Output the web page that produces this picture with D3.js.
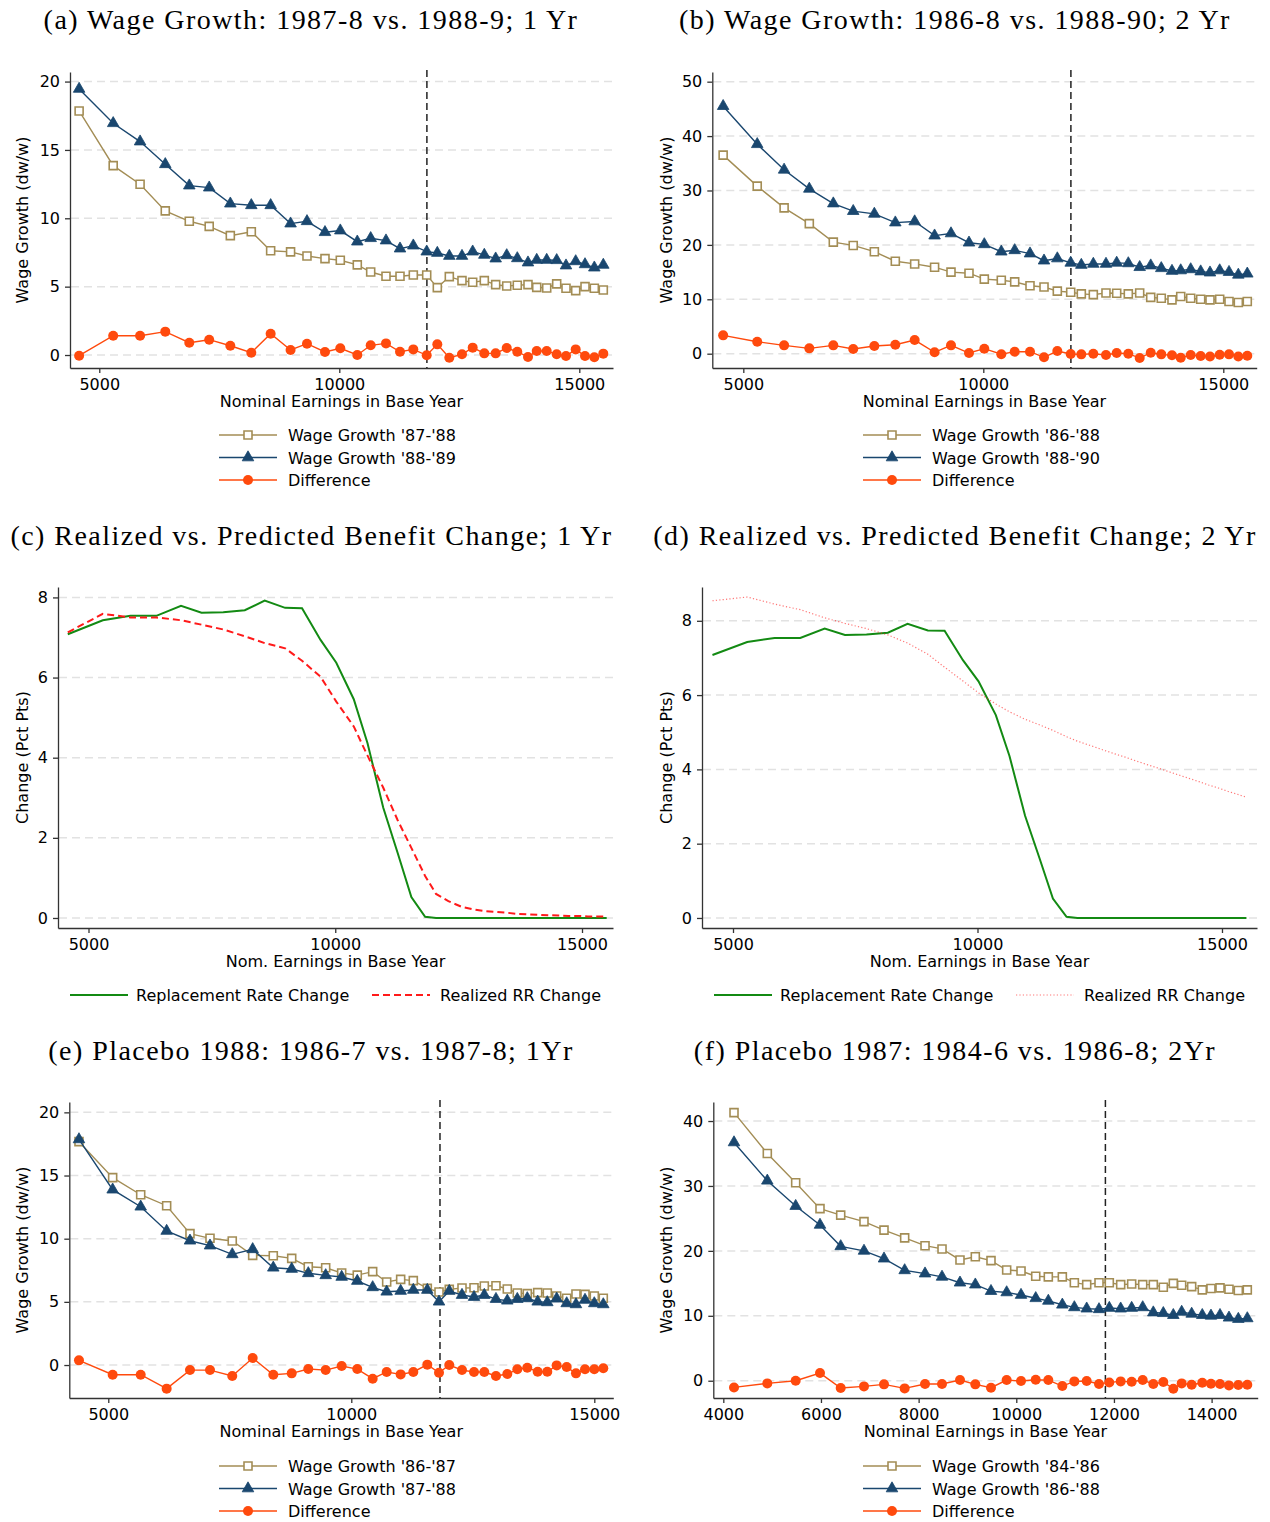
<!DOCTYPE html>
<html>
<head>
<meta charset="utf-8">
<script src="https://cdnjs.cloudflare.com/ajax/libs/d3/7.8.5/d3.min.js"></script>
<style>
  body { margin: 0; background: #fff; }
  svg { display: block; }
</style>
</head>
<body>
<svg id="fig" width="1270" height="1522"></svg>
<script>
// ---------- data ----------
// earnings bins (nominal earnings in base year) for panels a-d
const earningsAD = [4580, 5290, 5850, 6375, 6875, 7290, 7730, 8167, 8570, 8985, 9327, 9702,
  10021, 10375, 10654, 10973, 11265, 11542, 11821, 12042, 12292, 12556, 12779, 13021,
  13258, 13488, 13708, 13931, 14113, 14321, 14529, 14723, 14925, 15119, 15313, 15500];

// (a) 1 year wage growth
const wageA8788 = [17.85, 13.85, 12.49, 10.54, 9.78, 9.41, 8.73, 9.02, 7.63, 7.54, 7.24, 7.05,
  6.93, 6.59, 6.07, 5.76, 5.76, 5.85, 5.85, 4.93, 5.73, 5.44, 5.32, 5.44,
  5.15, 5.05, 5.10, 5.15, 4.95, 4.90, 5.20, 4.88, 4.71, 5.00, 4.88, 4.76];
const wageA8889 = [19.46, 16.95, 15.61, 13.95, 12.39, 12.24, 11.07, 10.95, 10.95, 9.61, 9.78, 8.98,
  9.10, 8.29, 8.54, 8.37, 7.78, 8.00, 7.56, 7.46, 7.24, 7.24, 7.56, 7.32,
  7.05, 7.29, 7.07, 6.76, 6.95, 6.95, 6.93, 6.54, 6.85, 6.63, 6.39, 6.59];
const diffA = [-0.05, 1.41, 1.41, 1.71, 0.90, 1.12, 0.68, 0.17, 1.56, 0.37, 0.83, 0.22,
  0.49, 0.00, 0.71, 0.85, 0.24, 0.41, -0.02, 0.78, -0.20, 0.05, 0.54, 0.12,
  0.12, 0.51, 0.24, -0.15, 0.29, 0.29, 0.05, -0.07, 0.41, -0.07, -0.17, 0.10];

// (b) 2 year wage growth
const wageB8688 = [36.5, 30.8, 26.8, 23.9, 20.5, 19.9, 18.75, 17.0, 16.5, 15.9, 15.0, 14.8,
  13.7, 13.5, 13.2, 12.5, 12.25, 11.5, 11.3, 11.0, 10.85, 11.15, 11.1, 11.0,
  11.15, 10.35, 10.2, 9.9, 10.5, 10.2, 10.0, 9.9, 10.0, 9.6, 9.4, 9.6];
const wageB8890 = [45.5, 38.5, 33.8, 30.3, 27.6, 26.2, 25.7, 24.1, 24.3, 21.7, 22.1, 20.4,
  20.1, 18.75, 19.0, 18.4, 17.1, 17.5, 16.7, 16.3, 16.5, 16.5, 16.7, 16.6,
  15.9, 16.2, 15.7, 15.2, 15.3, 15.5, 15.1, 14.9, 15.3, 15.0, 14.5, 14.7];
const diffB = [3.37, 2.20, 1.53, 0.98, 1.53, 0.86, 1.41, 1.65, 2.51, 0.25, 1.53, 0.12,
  0.92, -0.10, 0.37, 0.37, -0.67, 0.49, -0.06, -0.12, 0.00, -0.25, 0.12, 0.00,
  -0.80, 0.18, -0.12, -0.30, -0.74, -0.25, -0.43, -0.50, -0.18, -0.12, -0.50, -0.37];

// (c), (d) benefit changes
const rrChange = [7.08, 7.43, 7.54, 7.54, 7.79, 7.62, 7.63, 7.68, 7.92, 7.74, 7.73, 6.94,
  6.37, 5.46, 4.36, 2.75, 1.62, 0.52, 0.03, 0, 0, 0, 0, 0,
  0, 0, 0, 0, 0, 0, 0, 0, 0, 0, 0, 0];
const realizedRR1 = [7.13, 7.59, 7.50, 7.50, 7.43, 7.32, 7.20, 7.03, 6.86, 6.73, 6.42, 6.02,
  5.40, 4.78, 4.05, 3.25, 2.44, 1.75, 1.05, 0.60, 0.42, 0.28, 0.22, 0.17,
  0.15, 0.13, 0.10, 0.09, 0.08, 0.07, 0.06, 0.05, 0.05, 0.04, 0.04, 0.04];
const realizedRR2 = [8.54, 8.64, 8.45, 8.30, 8.08, 7.93, 7.79, 7.62, 7.40, 7.10, 6.75, 6.38,
  6.06, 5.76, 5.55, 5.35, 5.20, 5.05, 4.88, 4.76, 4.65, 4.53, 4.43, 4.33,
  4.22, 4.12, 4.03, 3.93, 3.85, 3.76, 3.67, 3.58, 3.50, 3.41, 3.33, 3.25];

// (e) placebo 1988, 1 year
const earningsE = [4397, 5090, 5667, 6201, 6681, 7093, 7551, 7971, 8395, 8774, 9115, 9473,
  9802, 10123, 10440, 10728, 11016, 11276, 11564, 11805, 12016, 12278, 12525, 12737,
  12977, 13210, 13416, 13621, 13835, 14033, 14226, 14432, 14623, 14809, 15000, 15185];
const wageE8687 = [17.68, 14.83, 13.48, 12.61, 10.40, 10.03, 9.82, 8.68, 8.65, 8.44, 7.78, 7.70,
  7.28, 7.12, 7.39, 6.57, 6.78, 6.68, 6.07, 5.78, 5.99, 6.10, 6.12, 6.25,
  6.28, 6.02, 5.70, 5.65, 5.73, 5.70, 5.46, 5.28, 5.62, 5.59, 5.46, 5.28];
const wageE8788 = [17.86, 13.88, 12.53, 10.61, 9.84, 9.45, 8.76, 9.16, 7.70, 7.60, 7.26, 7.10,
  6.97, 6.65, 6.15, 5.80, 5.86, 5.94, 5.94, 5.01, 5.86, 5.54, 5.38, 5.54,
  5.22, 5.09, 5.22, 5.28, 5.01, 4.96, 5.25, 4.88, 4.80, 5.15, 4.88, 4.80];
const diffE = [0.37, -0.77, -0.77, -1.87, -0.40, -0.40, -0.87, 0.55, -0.77, -0.66, -0.32, -0.40,
  -0.08, -0.32, -1.08, -0.55, -0.74, -0.55, 0.03, -0.61, 0.00, -0.40, -0.55, -0.55,
  -0.87, -0.71, -0.34, -0.21, -0.53, -0.53, -0.03, -0.16, -0.66, -0.34, -0.34, -0.26];

// (f) placebo 1987, 2 year
const earningsF = [4219, 4901, 5482, 5980, 6404, 6881, 7291, 7714, 8131, 8479, 8847, 9161,
  9482, 9803, 10097, 10398, 10656, 10943, 11189, 11442, 11694, 11905, 12138, 12363,
  12589, 12806, 13011, 13216, 13387, 13592, 13809, 13987, 14172, 14356, 14547, 14731];
const wageF8486 = [41.3, 35.0, 30.5, 26.5, 25.5, 24.5, 23.2, 22.0, 20.8, 20.3, 18.6, 19.1,
  18.5, 17.05, 16.9, 16.1, 16.0, 16.0, 15.1, 14.8, 15.1, 15.1, 14.8, 14.9,
  14.8, 14.8, 14.4, 15.0, 14.7, 14.5, 14.0, 14.2, 14.3, 14.1, 13.9, 14.0];
const wageF8688 = [36.7, 30.8, 26.9, 24.0, 20.7, 20.0, 18.8, 17.0, 16.5, 16.0, 15.1, 14.8,
  13.8, 13.6, 13.2, 12.7, 12.3, 11.7, 11.3, 11.1, 11.0, 11.2, 11.1, 11.2,
  11.3, 10.5, 10.4, 10.1, 10.6, 10.3, 10.1, 10.0, 10.1, 9.7, 9.5, 9.6];
const diffF = [-1.03, -0.41, 0.00, 1.18, -1.13, -0.87, -0.56, -1.18, -0.51, -0.51, 0.10, -0.56,
  -1.08, 0.10, -0.05, 0.15, 0.10, -0.82, -0.10, -0.05, -0.51, -0.26, -0.10, -0.15,
  0.10, -0.51, -0.20, -1.23, -0.41, -0.62, -0.31, -0.46, -0.51, -0.72, -0.67, -0.62];

// benefit cap (earnings threshold) marked by the dashed vertical line
const earningsCap = 11825;

// axis ticks
const xTicksMain = [5000, 10000, 15000];
const xTicksF = [4000, 6000, 8000, 10000, 12000, 14000];
const yTicksA = [0, 5, 10, 15, 20];
const yTicksB = [0, 10, 20, 30, 40, 50];
const yTicksCD = [0, 2, 4, 6, 8];
const yTicksE = [0, 5, 10, 15, 20];
const yTicksF = [0, 10, 20, 30, 40];

// ---------- styles ----------
const SANS = "'DejaVu Sans', Verdana, sans-serif";
const SERIF = "'Liberation Serif', 'Times New Roman', serif";
const C_TAN = '#a38d55';
const C_NAVY = '#1a476f';
const C_ORANGE = '#ff4a0d';
const C_GREEN = '#138a13';
const C_RED = '#ff1a1a';

const svg = d3.select('#fig');

const wageStyles = {
  tan: { color: C_TAN, marker: 'square' },
  navy: { color: C_NAVY, marker: 'triangle' },
  orange: { color: C_ORANGE, marker: 'circle' }
};

function drawMarker(sel, kind, color) {
  if (kind === 'square') {
    sel.append('path').attr('d', d3.symbol(d3.symbolSquare, 64)())
      .attr('fill', '#fff').attr('stroke', color).attr('stroke-width', 1.6);
  } else if (kind === 'triangle') {
    sel.append('path').attr('d', d3.symbol(d3.symbolTriangle, 58)())
      .attr('fill', color).attr('stroke', color).attr('stroke-width', 0.8);
  } else {
    sel.append('circle').attr('r', 5).attr('fill', color);
  }
}

function drawPanel(p) {
  const g = svg.append('g');
  const x = d3.scaleLinear().domain(p.xDomain).range([p.left, p.right]);
  const y = d3.scaleLinear().domain(p.yDomain).range([p.bottom, p.top]);

  // title
  g.append('text')
    .attr('x', p.titleX).attr('y', p.titleY)
    .attr('text-anchor', 'middle')
    .style('font-family', SERIF).style('font-size', '28px')
    .style('letter-spacing', '1.45px')
    .text(p.title);

  // horizontal grid
  g.append('g').selectAll('line').data(p.yTicks).join('line')
    .attr('x1', p.left + 1).attr('x2', p.right)
    .attr('y1', d => y(d)).attr('y2', d => y(d))
    .attr('stroke', '#e2e2e2').attr('stroke-width', 1.5)
    .attr('stroke-dasharray', '8,5');

  // axes
  const xAxis = d3.axisBottom(x).tickValues(p.xTicks).tickSize(5).tickSizeOuter(0)
    .tickPadding(5.5).tickFormat(d3.format('d'));
  const yAxis = d3.axisLeft(y).tickValues(p.yTicks).tickSize(5).tickSizeOuter(0)
    .tickPadding(5).tickFormat(d3.format('d'));
  const gx = g.append('g').attr('transform', `translate(0,${p.bottom})`).call(xAxis);
  const gy = g.append('g').attr('transform', `translate(${p.left},0)`).call(yAxis);
  [gx, gy].forEach(a => {
    a.selectAll('path, line').attr('stroke', '#333').attr('stroke-width', 1.3);
    a.selectAll('text').style('font-family', SANS).style('font-size', '16px').attr('fill', '#000');
  });

  // axis titles
  g.append('text')
    .attr('x', (p.left + p.right) / 2).attr('y', p.bottom + 39)
    .attr('text-anchor', 'middle')
    .style('font-family', SANS).style('font-size', '16px')
    .text(p.xTitle);
  g.append('text')
    .attr('transform', `translate(${p.yTitleX},${(p.top + p.bottom) / 2}) rotate(-90)`)
    .attr('text-anchor', 'middle')
    .style('font-family', SANS).style('font-size', '16px')
    .text(p.yTitle);

  // cap line
  if (p.cap) {
    g.append('line')
      .attr('x1', x(p.cap)).attr('x2', x(p.cap))
      .attr('y1', p.top - 2).attr('y2', p.bottom)
      .attr('stroke', '#222').attr('stroke-width', 1.5)
      .attr('stroke-dasharray', '7,4');
  }

  // series
  p.series.forEach(s => {
    const pts = s.xs.map((v, i) => [v, s.ys[i]]);
    const line = d3.line().x(d => x(d[0])).y(d => y(d[1]));
    g.append('path').datum(pts)
      .attr('d', line)
      .attr('fill', 'none')
      .attr('stroke', s.color)
      .attr('stroke-width', s.width || 1.4)
      .attr('stroke-dasharray', s.dash || null)
      .attr('stroke-opacity', s.opacity || 1);
    if (s.marker) {
      g.append('g').selectAll('g').data(pts).join('g')
        .attr('transform', d => `translate(${x(d[0])},${y(d[1])})`)
        .each(function () { drawMarker(d3.select(this), s.marker, s.color); });
    }
  });

  // legend
  p.legend.forEach(item => {
    const lg = g.append('g').attr('transform', `translate(${item.x},${item.y})`);
    lg.append('line').attr('x1', 0).attr('x2', 58).attr('y1', 0).attr('y2', 0)
      .attr('stroke', item.color).attr('stroke-width', item.width || 1.4)
      .attr('stroke-dasharray', item.dash || null)
      .attr('stroke-opacity', item.opacity || 1);
    if (item.marker) {
      const m = lg.append('g').attr('transform', 'translate(29,0)');
      drawMarker(m, item.marker, item.color);
    }
    lg.append('text').attr('x', item.textDx || 68).attr('y', 6)
      .style('font-family', SANS).style('font-size', '16px')
      .text(item.label);
  });
}

function wageSeries(xs, tanYs, navyYs, diffYs) {
  return [
    { xs, ys: tanYs, color: C_TAN, marker: 'square' },
    { xs, ys: navyYs, color: C_NAVY, marker: 'triangle' },
    { xs, ys: diffYs, color: C_ORANGE, marker: 'circle' }
  ];
}

function wageLegend(x0, y0, labTan, labNavy) {
  return [
    { x: x0, y: y0, color: C_TAN, marker: 'square', label: labTan, textDx: 69 },
    { x: x0, y: y0 + 22.5, color: C_NAVY, marker: 'triangle', label: labNavy, textDx: 69 },
    { x: x0, y: y0 + 45, color: C_ORANGE, marker: 'circle', label: 'Difference', textDx: 69 }
  ];
}

function benefitSeries(realized, dash, opacity, width) {
  return [
    { xs: earningsAD, ys: rrChange, color: C_GREEN, width: 2 },
    { xs: earningsAD, ys: realized, color: C_RED, width: width, dash: dash, opacity: opacity }
  ];
}

function benefitLegend(x0, y0, dash, opacity, width) {
  return [
    { x: x0, y: y0, color: C_GREEN, width: 2, label: 'Replacement Rate Change', textDx: 66 },
    { x: x0 + 302, y: y0, color: C_RED, width: width, dash: dash, opacity: opacity,
      label: 'Realized RR Change', textDx: 68 }
  ];
}

// (a)
drawPanel({
  title: '(a) Wage Growth: 1987-8 vs. 1988-9; 1 Yr', titleX: 311, titleY: 29,
  left: 70, right: 613, top: 72, bottom: 368,
  xDomain: [4390, 15702], yDomain: [-0.95, 20.70],
  xTicks: xTicksMain, yTicks: yTicksA,
  xTitle: 'Nominal Earnings in Base Year', yTitle: 'Wage Growth (dw/w)', yTitleX: 28,
  cap: earningsCap,
  series: wageSeries(earningsAD, wageA8788, wageA8889, diffA),
  legend: wageLegend(219, 435, "Wage Growth '87-'88", "Wage Growth '88-'89")
});

// (b)
drawPanel({
  title: '(b) Wage Growth: 1986-8 vs. 1988-90; 2 Yr', titleX: 955, titleY: 29,
  left: 712.3, right: 1256.7, top: 72, bottom: 368,
  xDomain: [4354, 15696], yDomain: [-2.63, 51.78],
  xTicks: xTicksMain, yTicks: yTicksB,
  xTitle: 'Nominal Earnings in Base Year', yTitle: 'Wage Growth (dw/w)', yTitleX: 672,
  cap: earningsCap,
  series: wageSeries(earningsAD, wageB8688, wageB8890, diffB),
  legend: wageLegend(863, 435, "Wage Growth '86-'88", "Wage Growth '88-'90")
});

// (c)
drawPanel({
  title: '(c) Realized vs. Predicted Benefit Change; 1 Yr', titleX: 311.5, titleY: 545,
  left: 58, right: 613, top: 587, bottom: 928,
  xDomain: [4382, 15628], yDomain: [-0.25, 8.26],
  xTicks: xTicksMain, yTicks: yTicksCD,
  xTitle: 'Nom. Earnings in Base Year', yTitle: 'Change (Pct Pts)', yTitleX: 28,
  series: benefitSeries(realizedRR1, '7,4', 1, 2),
  legend: benefitLegend(70, 995, '7,4', 1, 2)
});

// (d)
drawPanel({
  title: '(d) Realized vs. Predicted Benefit Change; 2 Yr', titleX: 955, titleY: 545,
  left: 702, right: 1257, top: 587, bottom: 928,
  xDomain: [4366, 15716], yDomain: [-0.27, 8.91],
  xTicks: xTicksMain, yTicks: yTicksCD,
  xTitle: 'Nom. Earnings in Base Year', yTitle: 'Change (Pct Pts)', yTitleX: 672,
  series: benefitSeries(realizedRR2, '1.2,2.2', 0.6, 1.2),
  legend: benefitLegend(714, 995, '1.2,2.2', 0.6, 1.2)
});

// (e)
drawPanel({
  title: '(e) Placebo 1988: 1986-7 vs. 1987-8; 1Yr', titleX: 311, titleY: 1060,
  left: 69.3, right: 613.3, top: 1102, bottom: 1398,
  xDomain: [4198, 15391], yDomain: [-2.61, 20.82],
  xTicks: xTicksMain, yTicks: yTicksE,
  xTitle: 'Nominal Earnings in Base Year', yTitle: 'Wage Growth (dw/w)', yTitleX: 28,
  cap: earningsCap,
  series: wageSeries(earningsE, wageE8687, wageE8788, diffE),
  legend: wageLegend(219, 1466, "Wage Growth '86-'87", "Wage Growth '87-'88")
});

// (f)
drawPanel({
  title: '(f) Placebo 1987: 1984-6 vs. 1986-8; 2Yr', titleX: 955, titleY: 1060,
  left: 713.3, right: 1257.7, top: 1102, bottom: 1398,
  xDomain: [3795, 14944], yDomain: [-2.66, 42.93],
  xTicks: xTicksF, yTicks: yTicksF,
  xTitle: 'Nominal Earnings in Base Year', yTitle: 'Wage Growth (dw/w)', yTitleX: 672,
  cap: earningsCap,
  series: wageSeries(earningsF, wageF8486, wageF8688, diffF),
  legend: wageLegend(863, 1466, "Wage Growth '84-'86", "Wage Growth '86-'88")
});
</script>
</body>
</html>
